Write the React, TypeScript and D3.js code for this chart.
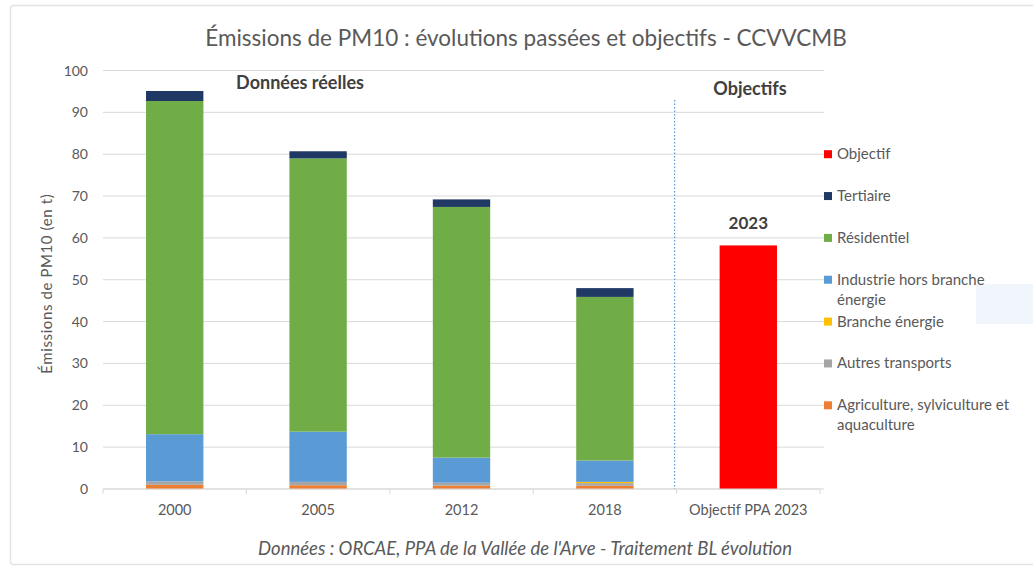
import React from "react";
import * as d3 from "d3";

const categories = ["2000", "2005", "2012", "2018", "Objectif PPA 2023"];
const agriculture = [1.0, 0.9, 0.8, 0.8, 0];
const autresTransports = [0.8, 0.8, 0.7, 0.6, 0];
const brancheEnergie = [0, 0, 0, 0.3, 0];
const industrie = [11.3, 12.0, 6.0, 5.1, 0];
const residentiel = [79.6, 65.3, 59.9, 39.1, 0];
const tertiaire = [2.4, 1.7, 1.8, 2.1, 0];
const objectif = [0, 0, 0, 0, 58.2];
const yTicks = [0, 10, 20, 30, 40, 50, 60, 70, 80, 90, 100];

const seriesKeys = ["agri", "transp", "energie", "industrie", "resid", "tert", "obj"];
const seriesValues: Record<string, number[]> = {
  agri: agriculture,
  transp: autresTransports,
  energie: brancheEnergie,
  industrie: industrie,
  resid: residentiel,
  tert: tertiaire,
  obj: objectif,
};
const seriesColors: Record<string, string> = {
  agri: "#ED7D31",
  transp: "#A5A5A5",
  energie: "#FFC000",
  industrie: "#5B9BD5",
  resid: "#70AD47",
  tert: "#203864",
  obj: "#FF0000",
};
// legend, top to bottom
const legendItems: { key: string; lines: string[] }[] = [
  { key: "obj", lines: ["Objectif"] },
  { key: "tert", lines: ["Tertiaire"] },
  { key: "resid", lines: ["Résidentiel"] },
  { key: "industrie", lines: ["Industrie hors branche", "énergie"] },
  { key: "energie", lines: ["Branche énergie"] },
  { key: "transp", lines: ["Autres transports"] },
  { key: "agri", lines: ["Agriculture, sylviculture et", "aquaculture"] },
];
const legendLevels = [80, 70, 60, 50, 40, 30, 20];

const FONT = "Lato, 'Open Sans', sans-serif";
const TXT = "#595959";

export default function App() {
  const W = 1033;
  const H = 567;
  const x = d3
    .scaleBand<string>()
    .domain(categories)
    .range([103, 820])
    .paddingInner(0.6)
    .paddingOuter(0.3);
  const y = d3.scaleLinear().domain([0, 100]).range([489, 70.5]);

  const table = categories.map((c, i) => {
    const row: any = { cat: c };
    seriesKeys.forEach((k) => (row[k] = seriesValues[k][i]));
    return row;
  });
  const stacked = d3.stack<any>().keys(seriesKeys)(table);

  const step = x.step();
  const x0 = x.range()[0];
  const boundaries = d3.range(categories.length + 1).map((i) => x0 + i * step);
  const sepX = boundaries[4] - 2;

  return (
    <svg
      width={W}
      height={H}
      style={{ position: "absolute", left: 0, top: 0, background: "#fff" }}
      fontFamily={FONT}
    >
      <rect x={0} y={0} width={W} height={H} fill="#fff" />
      <rect x={10.5} y={5.5} width={1040} height={559} fill="none" stroke="#e3e3e3" strokeWidth={1.5} rx={3} />
      <rect x={976} y={284} width={60} height={40} fill="#eef4fb" opacity={0.8} />

      {/* title */}
      <text x={526} y={46} textAnchor="middle" fontSize={22.5} fill={TXT}>
        Émissions de PM10 : évolutions passées et objectifs - CCVVCMB
      </text>

      {/* gridlines */}
      {yTicks.map((t) => (
        <line key={t} x1={103} x2={824} y1={y(t)} y2={y(t)} stroke="#d9d9d9" strokeWidth={1} />
      ))}
      {/* y tick labels */}
      {yTicks.map((t) => (
        <text key={"l" + t} x={88} y={y(t) + 5} textAnchor="end" fontSize={14} fill={TXT}>
          {t}
        </text>
      ))}
      <text
        transform={`translate(52, ${y(50) + 4}) rotate(-90)`}
        textAnchor="middle"
        fontSize={15}
        letterSpacing={0.6}
        fill={TXT}
      >
        Émissions de PM10 (en t)
      </text>

      {/* bars */}
      {stacked.map((s) => (
        <g key={s.key} fill={seriesColors[s.key]}>
          {s.map((d, i) =>
            d[1] - d[0] > 0 ? (
              <rect
                key={i}
                x={x(categories[i])}
                width={x.bandwidth()}
                y={y(d[1])}
                height={y(d[0]) - y(d[1])}
              />
            ) : null
          )}
        </g>
      ))}

      {/* x axis */}
      <line x1={103} x2={820} y1={y(0)} y2={y(0)} stroke="#d9d9d9" strokeWidth={1} />
      {boundaries.map((b, i) => (
        <line key={i} x1={b} x2={b} y1={y(0)} y2={y(0) + 5} stroke="#d9d9d9" />
      ))}
      {categories.map((c) => (
        <text
          key={c}
          x={(x(c) as number) + x.bandwidth() / 2}
          y={515}
          textAnchor="middle"
          fontSize={14.5}
          fill={TXT}
        >
          {c}
        </text>
      ))}

      {/* separator */}
      <line
        x1={sepX}
        x2={sepX}
        y1={100}
        y2={y(0)}
        stroke="#5B9BD5"
        strokeWidth={1.2}
        strokeDasharray="1.5 2"
      />

      {/* annotations */}
      <text x={300} y={89} textAnchor="middle" fontSize={18} fontWeight="bold" fill="#404040">
        Données réelles
      </text>
      <text x={750} y={95} textAnchor="middle" fontSize={18} fontWeight="bold" fill="#404040">
        Objectifs
      </text>
      <text
        x={(x(categories[4]) as number) + x.bandwidth() / 2}
        y={229}
        textAnchor="middle"
        fontSize={17}
        fontWeight="bold"
        fill="#404040"
      >
        2023
      </text>

      {/* legend */}
      {legendItems.map((it, i) => {
        const ly = y(legendLevels[i]);
        return (
          <g key={it.key}>
            <rect x={824} y={ly - 4} width={8} height={8} fill={seriesColors[it.key]} />
            {it.lines.map((ln, j) => (
              <text key={j} x={837} y={ly + 5 + j * 20} fontSize={15} fill={TXT}>
                {ln}
              </text>
            ))}
          </g>
        );
      })}

      {/* source */}
      <text x={525} y={555} textAnchor="middle" fontSize={18.5} fontStyle="italic" fill={TXT}>
        Données : ORCAE, PPA de la Vallée de l'Arve - Traitement BL évolution
      </text>
    </svg>
  );
}
